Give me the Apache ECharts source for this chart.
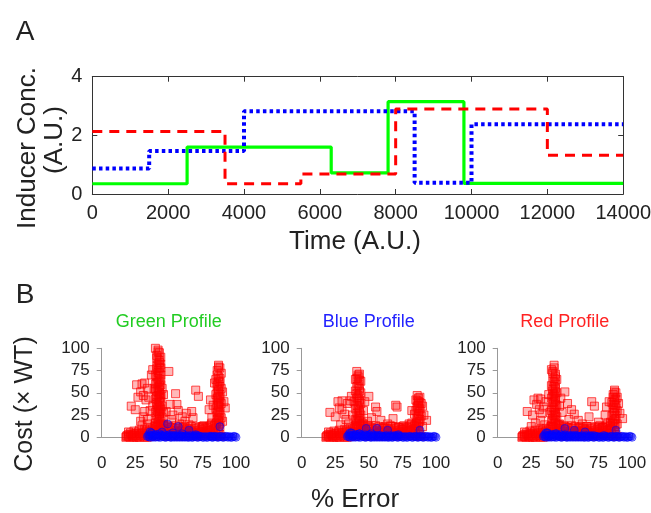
<!DOCTYPE html>
<html>
<head>
<meta charset="utf-8">
<script src="https://cdn.jsdelivr.net/npm/echarts@6.0.0/dist/echarts.min.js"></script>
<style>
  html, body { margin: 0; padding: 0; background: #fff; }
  #chart { width: 651px; height: 513px; }
</style>
</head>
<body>
<div id="chart"></div>
<script>
// ------------------------------------------------------------
// Panel A: inducer profiles (step changes: time -> level)
// ------------------------------------------------------------
const greenTimes = [0, 2500, 6300, 7800, 9800, 14000]
const greenLevels = [0.35, 1.6, 0.72, 3.15, 0.36, 0.36]

const blueTimes = [0, 1500, 4000, 8500, 10000, 14000]
const blueLevels = [0.87, 1.47, 2.82, 0.38, 2.38, 2.38]

const redTimes = [0, 3500, 5500, 8000, 12000, 14000]
const redLevels = [2.13, 0.35, 0.68, 2.9, 1.32, 1.32]

// ------------------------------------------------------------
// Panel B: cost vs % error ([error, cost])
// ------------------------------------------------------------
const panelTitles = ['Green Profile', 'Blue Profile', 'Red Profile']

// low-cost band, looks the same in all three profiles
const redLow = [
  [18, 0], [19, 2], [20, 1], [21, 0], [22, 3], [23, 1], [24, 0], [25, 2], [26, 4], [27, 1],
  [28, 0], [29, 3], [30, 5], [31, 1], [32, 2], [33, 6], [34, 0], [35, 3], [36, 7], [37, 2],
  [38, 9], [39, 4], [40, 1], [41, 11], [42, 6], [43, 3], [44, 13], [45, 8], [46, 2], [47, 10],
  [48, 5], [49, 1], [50, 9], [51, 4], [52, 11], [53, 2], [54, 7], [55, 5], [56, 10], [57, 1],
  [58, 6], [59, 3], [60, 8], [61, 5], [62, 1], [63, 7], [64, 4], [65, 9], [66, 2], [67, 6],
  [68, 3], [69, 8], [70, 5], [71, 1], [72, 7], [73, 4], [74, 9], [75, 2], [76, 6], [77, 10],
  [78, 3], [79, 8], [80, 12], [81, 5], [82, 2], [83, 9], [84, 13], [85, 4], [86, 1], [87, 7],
  [88, 3], [89, 1],
  [18.5, 1], [20, 3], [21.5, 5], [23, 2], [24.5, 4], [26, 0], [27.5, 6], [29, 2], [30.5, 4], [32, 0],
  [33.5, 8], [35, 5], [36.5, 1], [38, 6], [39.5, 12], [41, 3], [42.5, 9], [44, 5], [45.5, 14], [47, 3],
  [48.5, 7], [50, 12], [51.5, 2], [53, 10], [54.5, 4], [56, 8], [57.5, 12], [59, 6], [60.5, 11], [62, 4],
  [63.5, 10], [65, 7], [66.5, 12], [68, 5], [69.5, 10], [71, 3], [72.5, 11], [74, 6], [75.5, 12], [77, 4],
  [78.5, 11], [80, 7], [81.5, 14], [83, 4], [84.5, 10], [85.5, 16], [86, 6],
  [20, 6], [24, 7], [28, 8], [32, 9], [36, 10], [40, 13], [46, 15], [49, 13], [55, 13], [62, 12],
  [70, 12], [76, 13], [82, 16]
]

const blueBase = [
  [34, 1], [35, 3], [36, 0], [37, 5], [38, 1], [39, 2], [40, 0], [41, 3], [42, 1], [43, 4],
  [44, 0], [45, 2], [46, 1], [47, 3], [48, 0], [49, 2], [50, 1], [52, 0], [53, 2], [54, 1],
  [56, 0], [57, 2], [58, 1], [60, 0], [61, 1], [63, 2], [64, 0], [66, 1], [67, 0], [69, 2],
  [70, 1], [72, 0], [73, 1], [75, 0], [77, 1], [79, 0], [81, 1], [83, 0], [85, 1], [87, 0],
  [89, 1], [90, 0], [92, 1], [94, 0], [95, 1], [97, 0], [99, 1], [100, 0],
  [35, 1], [36.5, 2], [38, 0], [39.5, 3], [41, 1], [42.5, 0], [44, 2], [45.5, 1], [47, 0], [48.5, 1],
  [50, 3], [51, 0], [52.5, 1], [54, 0], [55, 2], [56.5, 1], [58, 0], [59, 2], [60.5, 1], [62, 0],
  [63, 1], [65, 0], [66, 2], [68, 0], [68.5, 1], [71, 0], [71.5, 2], [74, 1], [76, 0], [78, 0],
  [80, 1], [82, 0], [84, 1], [86, 0], [88, 1], [91, 0], [93, 1], [96, 0], [98, 1]
]

const greenProfileRed = [
  // main column around 40-45 %
  [40, 100], [42, 98], [43, 95], [41, 92], [44, 90], [42, 87], [43, 84], [41, 80], [44, 78], [38, 76],
  [42, 75], [37, 70], [43, 72], [41, 68], [44, 65], [42, 62], [40, 60], [43, 58], [45, 55], [41, 52],
  [43, 50], [42, 47], [44, 45], [40, 43], [43, 40], [41, 37], [45, 35], [42, 33], [44, 30], [40, 28],
  [43, 26], [41, 24], [45, 22], [42, 20], [44, 18], [40, 16], [43, 14], [46, 13], [41, 12], [50, 74],
  [46, 48], [39, 55], [38, 35], [46, 28],
  [42, 96], [41, 89], [43, 86], [42, 82], [44, 82], [41, 77], [43, 78], [42, 73], [40, 70], [44, 70],
  [42, 66], [43, 63], [41, 61], [44, 59], [42, 56], [40, 54], [43, 53], [42, 51], [44, 48], [41, 46],
  [43, 44], [42, 42], [44, 40], [41, 39], [42, 36], [43, 34], [41, 31], [44, 32], [42, 29], [43, 27],
  [41, 21], [43, 23], [42, 17], [44, 15], [42, 14],
  // left cluster
  [26, 59], [30, 60], [32, 61], [29, 51], [31, 47], [34, 55], [22, 35], [25, 31], [32, 29], [31, 23],
  [29, 18], [33, 42], [35, 45], [27, 45], [34, 20], [36, 30], [30, 13], [34, 15],
  // scattered middle
  [55, 49], [56, 37], [51, 37], [48, 29], [60, 23], [62, 18], [70, 53], [72, 46], [67, 29], [68, 22],
  [63, 27], [53, 25], [58, 15], [65, 14], [75, 12], [57, 30], [52, 20],
  // right column around 85-90 %
  [87, 81], [88, 78], [86, 75], [89, 72], [87, 68], [85, 65], [88, 62], [86, 58], [89, 55], [87, 52],
  [85, 48], [88, 45], [86, 42], [89, 38], [87, 35], [85, 32], [88, 28], [86, 25], [89, 22], [87, 18],
  [85, 15], [88, 12], [91, 40], [90, 51], [92, 33], [81, 42], [80, 31], [84, 61], [82, 22], [90, 18],
  [83, 36],
  [87, 79], [86, 70], [88, 66], [87, 63], [86, 60], [88, 57], [87, 54], [86, 50], [88, 48], [87, 46],
  [86, 44], [88, 40], [87, 38], [86, 36], [88, 34], [87, 30], [86, 28], [88, 25], [87, 22], [86, 20],
  [88, 16], [87, 14]
]
const greenProfileBlue = [[36, 6], [49, 15], [57, 12], [65, 8], [88, 12], [82, 1], [45, 6], [53, 5], [60, 4], [70, 3]]

const blueProfileRed = [
  [41, 74], [43, 71], [42, 68], [40, 65], [44, 63], [42, 60], [41, 57], [43, 55], [40, 52], [44, 50],
  [42, 47], [41, 44], [43, 42], [39, 40], [44, 38], [42, 35], [40, 32], [43, 30], [41, 27], [44, 25],
  [42, 22], [40, 20], [43, 18], [45, 16], [41, 14], [42, 12], [46, 30], [38, 25],
  [42, 70], [41, 66], [43, 64], [42, 58], [43, 52], [41, 49], [42, 45], [43, 40], [41, 36], [42, 33],
  [43, 28], [42, 24], [41, 19], [43, 21], [42, 16], [44, 14],
  [50, 46], [56, 29], [55, 34], [70, 36], [71, 34], [21, 28], [25, 23], [27, 40], [30, 41], [28, 33],
  [32, 26], [36, 41], [37, 46], [34, 38], [30, 31], [33, 20], [35, 15], [29, 14], [59, 19], [64, 15],
  [68, 21], [72, 11], [52, 22], [62, 10], [66, 13], [75, 9], [47, 40], [49, 18],
  [86, 47], [88, 45], [85, 42], [87, 40], [89, 38], [86, 35], [88, 32], [85, 30], [87, 27], [89, 24],
  [86, 21], [88, 18], [85, 15], [87, 12], [82, 30], [93, 19], [91, 25], [90, 35], [84, 26], [80, 15],
  [90, 12],
  [87, 44], [86, 41], [88, 39], [87, 36], [86, 33], [88, 29], [87, 25], [86, 23], [88, 20], [87, 16],
  [86, 13]
]
const blueProfileBlue = [[36, 5], [48, 10], [56, 10], [64, 8], [88, 8], [43, 4], [52, 4], [72, 3]]

const redProfileRed = [
  [42, 81], [40, 76], [41, 72], [43, 68], [44, 65], [42, 62], [40, 58], [43, 55], [41, 52], [44, 50],
  [42, 47], [40, 44], [43, 42], [41, 39], [44, 36], [42, 33], [40, 30], [43, 28], [41, 25], [44, 23],
  [42, 20], [40, 18], [43, 16], [45, 14], [41, 12], [38, 48], [46, 35], [39, 28],
  [42, 78], [41, 74], [43, 71], [42, 66], [41, 63], [43, 60], [42, 57], [41, 54], [43, 51], [42, 49],
  [41, 46], [43, 44], [42, 40], [43, 37], [41, 34], [42, 31], [43, 26], [42, 24], [41, 21], [43, 19],
  [42, 15],
  [27, 42], [30, 44], [32, 43], [34, 34], [31, 31], [22, 29], [26, 25], [32, 19], [35, 14], [29, 37],
  [36, 40], [33, 27], [28, 16], [25, 12],
  [50, 51], [55, 31], [52, 38], [70, 40], [72, 35], [60, 19], [68, 23], [75, 17], [57, 26], [63, 15],
  [66, 12], [53, 20], [47, 44], [48, 28], [78, 11],
  [87, 53], [88, 50], [86, 48], [89, 45], [87, 42], [85, 39], [88, 36], [86, 33], [89, 30], [87, 27],
  [85, 24], [88, 21], [86, 18], [89, 15], [87, 12], [93, 21], [91, 27], [81, 34], [80, 25], [83, 40],
  [90, 38], [84, 17],
  [87, 51], [86, 45], [88, 43], [87, 40], [86, 37], [88, 33], [87, 30], [86, 28], [88, 24], [87, 20],
  [86, 16], [88, 14]
]
const redProfileBlue = [[36, 5], [50, 10], [57, 8], [88, 8], [65, 6], [44, 4], [79, 2]]

const panelRed = [greenProfileRed, blueProfileRed, redProfileRed]
const panelBlue = [greenProfileBlue, blueProfileBlue, redProfileBlue]

// ------------------------------------------------------------
// layout / styles
// ------------------------------------------------------------
const FONT = 'Liberation Sans, Arial, Helvetica, sans-serif'
const TEXT = '#222'
const panelLefts = [101.7, 301.7, 497.7]
const titleColors = ['#22cc22', '#2222ff', '#ff2222']

function zip(xs, ys) {
  return xs.map((x, i) => [x, ys[i]])
}

const plain = v => String(v)

const chart = echarts.init(document.getElementById('chart'))

const grids = [{ left: 92.3, top: 76.7, width: 531.7, height: 117.3 }]
panelLefts.forEach(l => grids.push({ left: l, top: 348.3, width: 134.3, height: 89 }))

const boxLine = { show: true, onZero: false, lineStyle: { color: '#333', width: 1 } }
const boxTick = { inside: true, length: 5, lineStyle: { color: '#333' } }

const xAxes = [
  {
    gridIndex: 0, type: 'value', min: 0, max: 14000, interval: 2000, position: 'bottom',
    axisLine: boxLine, axisTick: boxTick, splitLine: { show: false },
    axisLabel: { fontSize: 20, color: TEXT, fontFamily: FONT, margin: 9, formatter: plain, minMargin: 0 }
  },
  {
    gridIndex: 0, type: 'value', min: 0, max: 14000, interval: 2000, position: 'top',
    axisLine: boxLine, axisTick: boxTick, splitLine: { show: false },
    axisLabel: { show: false }
  }
]
const yAxes = [
  {
    gridIndex: 0, type: 'value', min: 0, max: 4, interval: 2, position: 'left',
    axisLine: boxLine, axisTick: boxTick, splitLine: { show: false },
    axisLabel: { fontSize: 20, color: TEXT, fontFamily: FONT, margin: 10, formatter: plain }
  },
  {
    gridIndex: 0, type: 'value', min: 0, max: 4, interval: 2, position: 'right',
    axisLine: boxLine, axisTick: boxTick, splitLine: { show: false },
    axisLabel: { show: false }
  }
]

panelLefts.forEach((l, i) => {
  xAxes.push({
    gridIndex: i + 1, type: 'value', min: 0, max: 100, interval: 25,
    axisLine: { show: true, lineStyle: { color: '#999', width: 1 } },
    axisTick: { inside: true, length: 4, lineStyle: { color: '#999' } },
    splitLine: { show: false },
    axisLabel: { fontSize: 17, color: TEXT, fontFamily: FONT, margin: 18, formatter: plain, minMargin: 0 }
  })
  yAxes.push({
    gridIndex: i + 1, type: 'value', min: 0, max: 100, interval: 25,
    axisLine: { show: true, lineStyle: { color: '#999', width: 1 } },
    axisTick: { inside: false, length: 5, lineStyle: { color: '#999' } },
    splitLine: { show: false },
    axisLabel: { fontSize: 17, color: TEXT, fontFamily: FONT, margin: 12, formatter: plain }
  })
})

const series = [
  {
    type: 'line', xAxisIndex: 0, yAxisIndex: 0, step: 'end', showSymbol: false, z: 2,
    data: zip(greenTimes, greenLevels),
    lineStyle: { color: '#00ff00', width: 3.2, cap: 'butt' }
  },
  {
    type: 'line', xAxisIndex: 0, yAxisIndex: 0, step: 'end', showSymbol: false, z: 3,
    data: zip(blueTimes, blueLevels),
    lineStyle: { color: '#0000ff', width: 4, type: [3.5, 3.2], cap: 'butt' }
  },
  {
    type: 'line', xAxisIndex: 0, yAxisIndex: 0, step: 'end', showSymbol: false, z: 4,
    data: zip(redTimes, redLevels),
    lineStyle: { color: '#ff0000', width: 3, type: [10, 7], cap: 'butt' }
  }
]

panelLefts.forEach((l, i) => {
  series.push({
    type: 'scatter', xAxisIndex: i + 2, yAxisIndex: i + 2, clip: false, z: 2,
    symbol: 'rect', symbolSize: 8,
    data: redLow.concat(panelRed[i]),
    itemStyle: { color: 'rgba(255,0,0,0.35)', borderColor: 'rgba(255,0,0,0.85)', borderWidth: 1 }
  })
  series.push({
    type: 'scatter', xAxisIndex: i + 2, yAxisIndex: i + 2, clip: false, z: 3,
    symbol: 'circle', symbolSize: 8,
    data: blueBase.concat(panelBlue[i]),
    itemStyle: { color: 'rgba(0,0,255,0.4)', borderColor: 'rgba(0,0,255,0.7)', borderWidth: 1 }
  })
})

function label(text, x, y, size, opts) {
  return Object.assign({
    type: 'text', x: x, y: y, z: 10,
    style: { text: text, fontSize: size, fontFamily: FONT, fill: TEXT, align: 'center', verticalAlign: 'middle' }
  }, opts || {})
}

const graphics = [
  label('A', 25, 32, 28),
  label('B', 25, 295, 28),
  label('Inducer Conc.', 28, 148, 26, { rotation: Math.PI / 2 }),
  label('(A.U.)', 55, 140, 26, { rotation: Math.PI / 2 }),
  label('Time (A.U.)', 355, 242, 26),
  label('Cost (× WT)', 25, 404, 25, { rotation: Math.PI / 2 }),
  label('% Error', 355, 500, 26)
]
panelTitles.forEach((t, i) => {
  const g = label(t, panelLefts[i] + 67, 322, 18)
  g.style.fill = titleColors[i]
  graphics.push(g)
})

chart.setOption({
  animation: false,
  grid: grids,
  xAxis: xAxes,
  yAxis: yAxes,
  series: series,
  graphic: graphics
})
</script>
</body>
</html>
